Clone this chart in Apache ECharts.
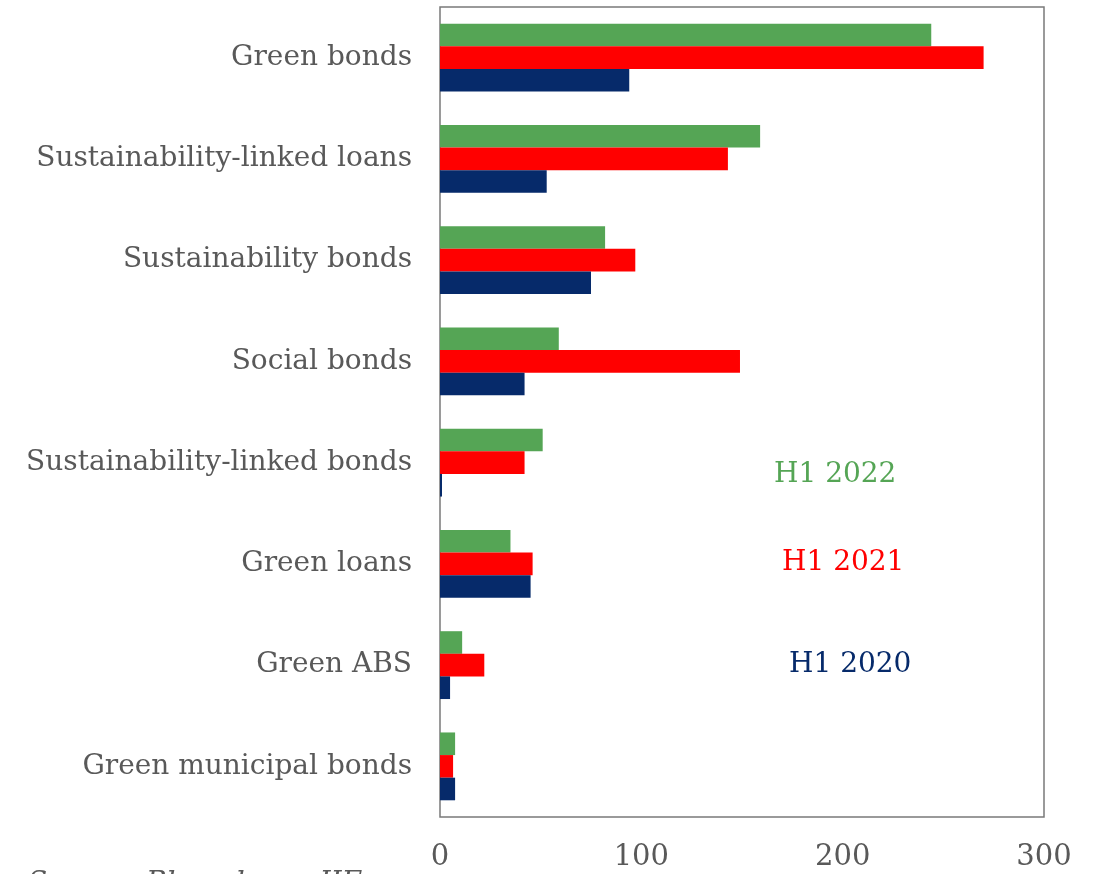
<!DOCTYPE html>
<html>
<head>
<meta charset="utf-8">
<script src="https://cdn.jsdelivr.net/npm/echarts@6/dist/echarts.min.js"></script>
<style>
  html, body { margin: 0; padding: 0; background: #ffffff; }
  #chart { width: 1099px; height: 874px; }
</style>
</head>
<body>
<div id="chart"></div>
<script>
// Sustainable debt issuance by instrument, first half of each year
const categories = [
  'Green bonds',
  'Sustainability-linked loans',
  'Sustainability bonds',
  'Social bonds',
  'Sustainability-linked bonds',
  'Green loans',
  'Green ABS',
  'Green municipal bonds'
];
const seriesNames = ['H1 2022', 'H1 2021', 'H1 2020'];
const h1_2022 = [244, 159, 82, 59, 51, 35, 11, 7.5];
const h1_2021 = [270, 143, 97, 149, 42, 46, 22, 6.5];
const h1_2020 = [94, 53, 75, 42, 1, 45, 5, 7.5];
const xTicks = [0, 100, 200, 300];

const colors = ['#55A555', '#FF0000', '#062A6A'];
const textFont = 'Georgia, "DejaVu Serif", serif';

const chart = echarts.init(document.getElementById('chart'));
const seriesData = [h1_2022, h1_2021, h1_2020];

chart.setOption({
  animation: false,
  grid: {
    left: 440, right: 55, top: 7, bottom: 57,
    show: true, borderColor: '#7a7a7a', borderWidth: 1.5,
    containLabel: false
  },
  xAxis: {
    type: 'value',
    min: xTicks[0], max: xTicks[xTicks.length - 1], interval: 100,
    axisLine: { show: false },
    axisTick: { show: false },
    splitLine: { show: false },
    axisLabel: {
      color: '#595959', fontFamily: textFont, fontSize: 29, margin: 26
    }
  },
  yAxis: {
    type: 'category',
    data: categories,
    inverse: true,
    axisLine: { show: false },
    axisTick: { show: false },
    axisLabel: {
      color: '#595959', fontFamily: textFont, fontSize: 28, margin: 28,
      padding: [4, 0, 0, 0]
    }
  },
  series: seriesNames.map((name, i) => ({
    name: name,
    type: 'bar',
    data: seriesData[i],
    itemStyle: { color: colors[i] },
    barGap: '0%',
    barCategoryGap: '33%'
  })),
  graphic: [
    { type: 'text', left: 774, top: 461, style: { text: seriesNames[0], fill: colors[0], font: '28px ' + textFont } },
    { type: 'text', left: 782, top: 549, style: { text: seriesNames[1], fill: colors[1], font: '28px ' + textFont } },
    { type: 'text', left: 789, top: 651, style: { text: seriesNames[2], fill: colors[2], font: '28px ' + textFont } },
    { type: 'text', left: 28, top: 870, style: { text: 'Source: Bloomberg, IIF', fill: '#595959', font: 'italic 28px ' + textFont } }
  ]
});
</script>
</body>
</html>
